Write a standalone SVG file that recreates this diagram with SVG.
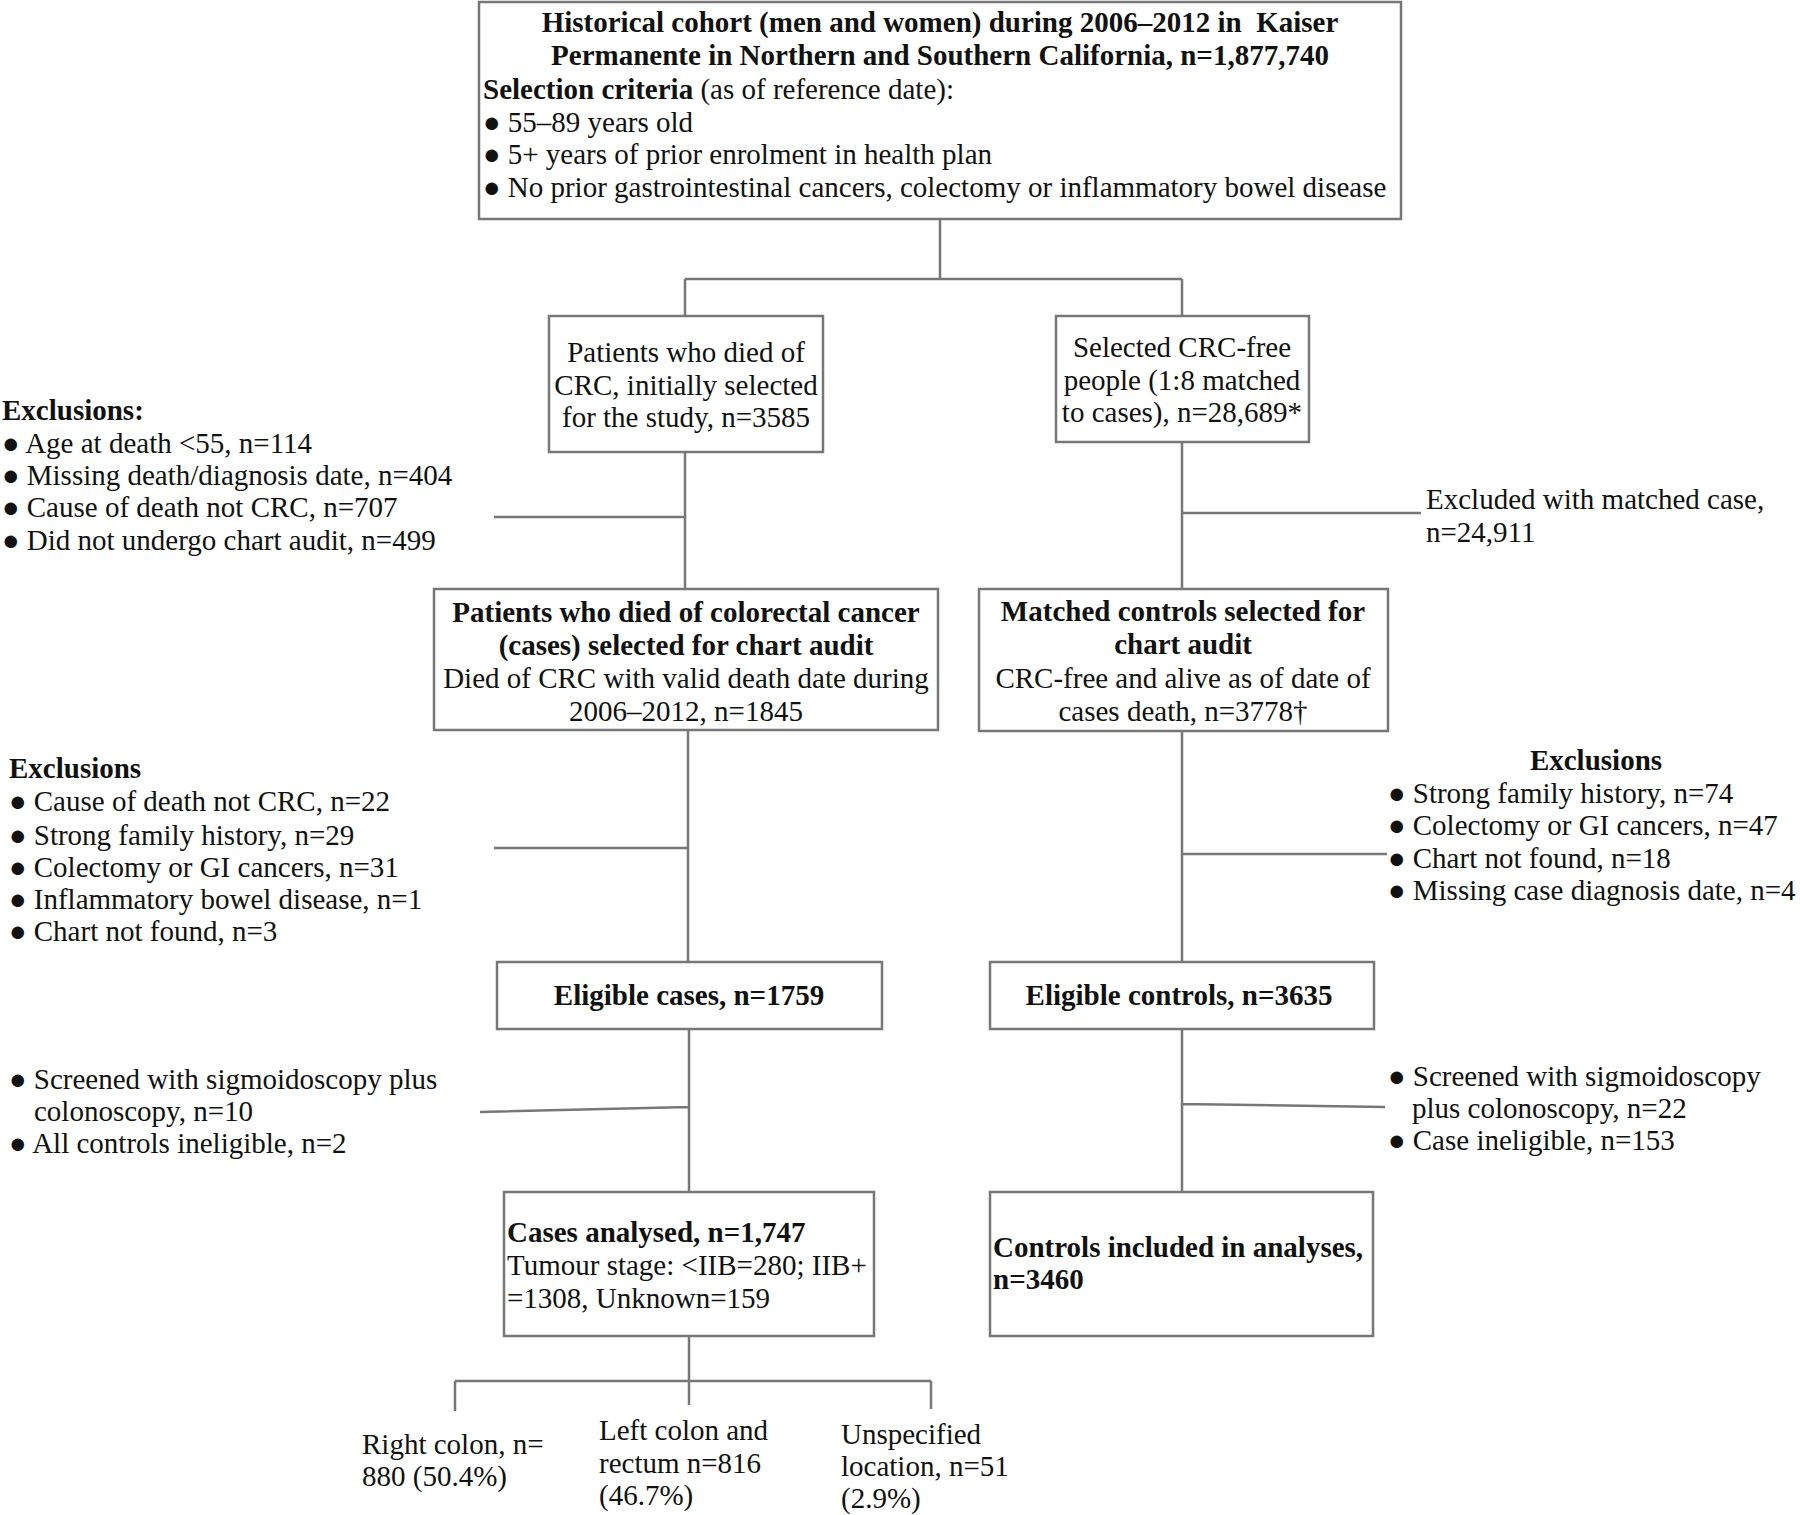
<svg xmlns="http://www.w3.org/2000/svg" width="1800" height="1515" viewBox="0 0 1800 1515">
<style>
text{font-family:"Liberation Serif","Times New Roman",serif;font-size:29px;fill:#111}
.b{font-weight:bold}
.c{text-anchor:middle}
.box{fill:#fff;stroke:#777;stroke-width:2.5}
.ln{fill:none;stroke:#777;stroke-width:2.5}
</style>
<rect width="1800" height="1515" fill="#fff"/>
<g id="connectors">
<path class="ln" d="M940 219V279M685 279H1182M685 279V316M1182 279V316"/>
<path class="ln" d="M685 452V589M494 517H685"/>
<path class="ln" d="M1182 442V589M1182 513H1421"/>
<path class="ln" d="M688 730V962M494 848H688"/>
<path class="ln" d="M1182 731V962M1182 854H1387"/>
<path class="ln" d="M689 1029V1192M480 1112L689 1107"/>
<path class="ln" d="M1182 1029V1192M1182 1104L1385 1107"/>
<path class="ln" d="M689 1336V1405M455 1381H931M455 1381V1411M931 1381V1409"/>
</g>
<g id="n_cohort">
<rect class="box" x="479" y="2" width="922" height="217"/>
<text class="b c" x="940" y="32">Historical cohort (men and women) during 2006–2012 in&#160; Kaiser</text>
<text class="b c" x="940" y="65">Permanente in Northern and Southern California, n=1,877,740</text>
<text x="483" y="99"><tspan class="b">Selection criteria</tspan> (as of reference date):</text>
<text x="483" y="132">● 55–89 years old</text>
<text x="483" y="164">● 5+ years of prior enrolment in health plan</text>
<text x="483" y="197">● No prior gastrointestinal cancers, colectomy or inflammatory bowel disease</text>
</g>
<g id="n_died">
<rect class="box" x="549" y="316" width="274" height="136"/>
<text class="c" x="686" y="362">Patients who died of</text>
<text class="c" x="686" y="395">CRC, initially selected</text>
<text class="c" x="686" y="427">for the study, n=3585</text>
</g>
<g id="n_free">
<rect class="box" x="1056" y="316" width="253" height="126"/>
<text class="c" x="1182" y="357">Selected CRC-free</text>
<text class="c" x="1182" y="390">people (1:8 matched</text>
<text class="c" x="1182" y="422">to cases), n=28,689*</text>
</g>
<g id="ex1">
<text class="b" x="2" y="420">Exclusions:</text>
<text x="2" y="453">●  Age at death &lt;55, n=114</text>
<text x="2" y="485">●  Missing death/diagnosis date, n=404</text>
<text x="2" y="517">●  Cause of death not CRC, n=707</text>
<text x="2" y="550">●  Did not undergo chart audit, n=499</text>
</g>
<g id="ex2">
<text x="1426" y="509">Excluded with matched case,</text>
<text x="1426" y="542">n=24,911</text>
</g>
<g id="n_cases_audit">
<rect class="box" x="434" y="589" width="504" height="141"/>
<text class="b c" x="686" y="622">Patients who died of colorectal cancer</text>
<text class="b c" x="686" y="655">(cases) selected for chart audit</text>
<text class="c" x="686" y="688">Died of CRC with valid death date during</text>
<text class="c" x="686" y="721">2006–2012, n=1845</text>
</g>
<g id="n_controls_audit">
<rect class="box" x="979" y="589" width="409" height="142"/>
<text class="b c" x="1183" y="621">Matched controls selected for</text>
<text class="b c" x="1183" y="654">chart audit</text>
<text class="c" x="1183" y="688">CRC-free and alive as of date of</text>
<text class="c" x="1183" y="721">cases death, n=3778†</text>
</g>
<g id="ex3">
<text class="b" x="9" y="778">Exclusions</text>
<text x="9" y="811">●  Cause of death not CRC, n=22</text>
<text x="9" y="845">●  Strong family history, n=29</text>
<text x="9" y="877">●  Colectomy or GI cancers, n=31</text>
<text x="9" y="909">● Inflammatory bowel disease, n=1</text>
<text x="9" y="941">●  Chart not found, n=3</text>
</g>
<g id="ex4">
<text class="b c" x="1596" y="770">Exclusions</text>
<text x="1388" y="803">●  Strong family history, n=74</text>
<text x="1388" y="835">●  Colectomy or GI cancers, n=47</text>
<text x="1388" y="868">●  Chart not found, n=18</text>
<text x="1388" y="900">●  Missing case diagnosis date, n=4</text>
</g>
<g id="n_elig_cases">
<rect class="box" x="497" y="962" width="385" height="67"/>
<text class="b c" x="689" y="1005">Eligible cases, n=1759</text>
</g>
<g id="n_elig_controls">
<rect class="box" x="990" y="962" width="384" height="67"/>
<text class="b c" x="1179" y="1005">Eligible controls, n=3635</text>
</g>
<g id="ex5">
<text x="9" y="1089">●  Screened with sigmoidoscopy plus</text>
<text x="34" y="1121">colonoscopy, n=10</text>
<text x="9" y="1153">●  All controls ineligible, n=2</text>
</g>
<g id="ex6">
<text x="1388" y="1086">●  Screened with sigmoidoscopy</text>
<text x="1412" y="1118">plus colonoscopy, n=22</text>
<text x="1388" y="1150">● Case ineligible, n=153</text>
</g>
<g id="n_cases_analysed">
<rect class="box" x="504" y="1192" width="370" height="144"/>
<text class="b" x="507" y="1242">Cases analysed, n=1,747</text>
<text x="507" y="1275">Tumour stage: &lt;IIB=280; IIB+</text>
<text x="507" y="1308">=1308, Unknown=159</text>
</g>
<g id="n_controls_included">
<rect class="box" x="990" y="1192" width="383" height="144"/>
<text class="b" x="993" y="1257">Controls included in analyses,</text>
<text class="b" x="993" y="1289">n=3460</text>
</g>
<g id="n_right">
<text x="362" y="1454">Right colon, n=</text>
<text x="362" y="1486">880 (50.4%)</text>
</g>
<g id="n_left">
<text x="599" y="1440">Left colon and</text>
<text x="599" y="1473">rectum n=816</text>
<text x="599" y="1505">(46.7%)</text>
</g>
<g id="n_unspec">
<text x="841" y="1444">Unspecified</text>
<text x="841" y="1476">location, n=51</text>
<text x="841" y="1508">(2.9%)</text>
</g>
</svg>
